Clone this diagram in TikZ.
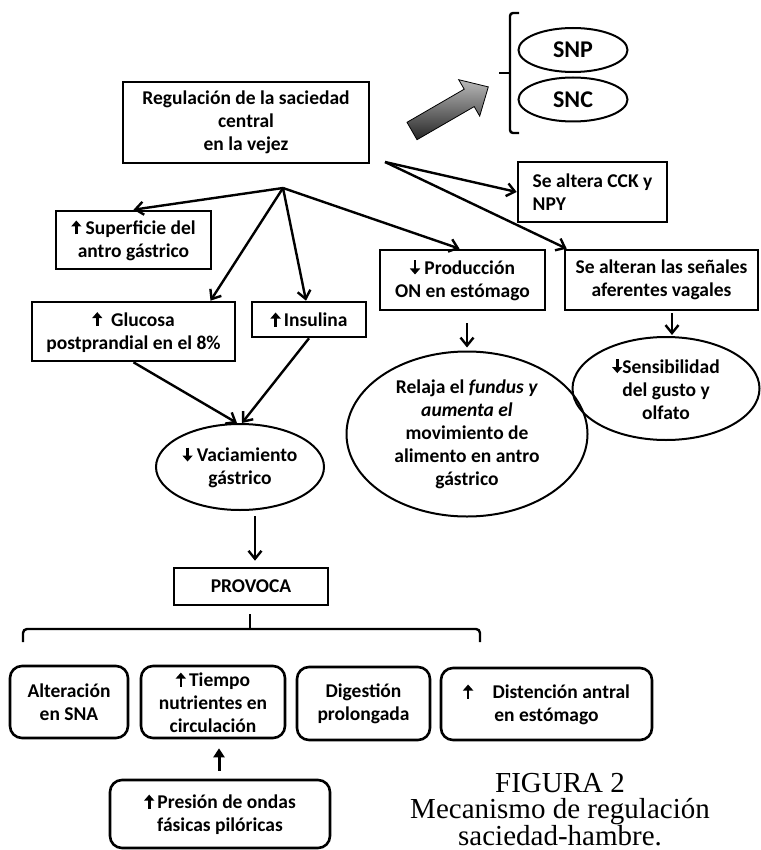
\documentclass[tikz,border=0pt]{standalone}
\usepackage{fontspec}
\setmainfont{Carlito}
\newfontfamily\capfont{Liberation Serif}
\usetikzlibrary{arrows.meta,shapes.geometric}
\newcommand{\arrUp}{\tikz[baseline=0pt]\draw[line width=2.6pt,-{Triangle[length=6pt,width=10pt]}] (0pt,0pt) -- (0pt,14pt);}
\newcommand{\arrDn}{\tikz[baseline=0pt]\draw[line width=2.6pt,-{Triangle[length=6pt,width=10pt]}] (0pt,14pt) -- (0pt,0pt);}
\begin{document}
\begin{tikzpicture}[x=1pt,y=-1pt,
    font=\fontsize{19.5}{23}\selectfont\bfseries,
    box/.style={draw,line width=2.6pt,align=center,inner sep=0pt},
    oval/.style={draw,ellipse,line width=2pt,align=center,inner sep=0pt},
    rbox/.style={draw,line width=2.6pt,rounded corners=12pt,align=center,inner sep=0pt},
    link/.style={line width=2.4pt,-{Straight Barb[length=8pt,width=13pt]}}]
    \useasboundingbox (0,0) rectangle (760,850);
    \fill[white] (0,0) rectangle (760,850);
    % top part
    \node[box,minimum width=246pt,minimum height=81pt] (reg) at (246,122.5) {Regulación de la saciedad\\central\\en la vejez};
    \node[oval,minimum width=109pt,minimum height=44pt,font=\fontsize{24}{28}\selectfont\bfseries] (snp) at (573,50) {SNP};
    \node[oval,minimum width=109pt,minimum height=44pt,font=\fontsize{24}{28}\selectfont\bfseries] (snc) at (573,99.5) {SNC};
    \draw[line width=2.4pt,rounded corners=3pt] (519,13) -- (510,13) -- (510,133) -- (519,133);
    \draw[line width=2.4pt] (510,73) -- (499,73);
    \draw[line width=0.8pt,top color=gray!55,bottom color=black!85] (407,122.3) -- (464.2,89.2) -- (458.7,79.7) -- (488.3,86.9) -- (479.7,116.1) -- (474.2,106.6) -- (417,139.7) -- cycle;
    \node[box,minimum width=149pt,minimum height=60pt,align=left] (cck) at (592.5,192) {Se altera CCK y\\NPY};
    \coordinate (hub) at (283,188);
    \coordinate (fork) at (385,162);
    % second row
    \node[box,minimum width=155pt,minimum height=58pt] (sup) at (133.5,240) {\arrUp\ Superficie del\\antro gástrico};
    \node[box,minimum width=203pt,minimum height=59pt] (glu) at (133.5,331.5) {\arrUp\ \ Glucosa\\postprandial en el 8\%};
    \node[box,minimum width=114pt,minimum height=35pt] (ins) at (309,319.5) {\arrUp\,Insulina};
    \node[box,minimum width=165pt,minimum height=60pt] (prod) at (462.5,280) {\arrDn\ Producción\\ON en estómago};
    \node[box,minimum width=193pt,minimum height=60pt] (sen) at (661.5,280) {Se alteran las señales\\aferentes vagales};
    \node[oval,minimum width=241pt,minimum height=165pt] (rel) at (467,434) {Relaja el \textit{fundus y}\\\textit{aumenta el}\\movimiento de\\alimento en antro\\gástrico};
    \node[oval,minimum width=187pt,minimum height=103pt] (sens) at (666,388.5) {\arrDn Sensibilidad\\del gusto y\\olfato};
    \node[oval,minimum width=168pt,minimum height=86pt] (vac) at (240,467) {\arrDn\ Vaciamiento\\gástrico};
    \node[box,minimum width=154pt,minimum height=37pt] (prov) at (251,586.5) {PROVOCA};
    % bottom boxes
    \node[rbox,minimum width=118pt,minimum height=72pt] (alt) at (69,702) {Alteración\\en SNA};
    \node[rbox,minimum width=144pt,minimum height=72pt] (tie) at (213,702) {\arrUp\,Tiempo\\nutrientes en\\circulación};
    \node[rbox,minimum width=133pt,minimum height=73pt] (dig) at (363.5,703.5) {Digestión\\prolongada};
    \node[rbox,minimum width=211pt,minimum height=72pt] (dis) at (546.5,704) {\arrUp\quad Distención antral\\en estómago};
    \node[rbox,minimum width=220pt,minimum height=68pt] (pre) at (220,814) {\arrUp\,Presión de ondas\\fásicas pilóricas};
    \node[anchor=north,inner sep=0pt,align=center,font=\capfont\fontsize{29}{26.5}\selectfont] (cap) at (560,773) {FIGURA 2\\Mecanismo de regulación\\saciedad-hambre.};
    % connectors
    \draw[link] (hub) -- (sup.north);
    \draw[link] (hub) -- ([xshift=77pt]glu.north);
    \draw[link] (hub) -- ([xshift=-3pt]ins.north);
    \draw[link] (hub) -- ([xshift=-3pt]prod.north);
    \draw[link] (fork) -- (cck.west);
    \draw[link] (fork) -- ([xshift=3pt]sen.north west);
    \draw[link] (glu.south) -- ([xshift=-3pt]vac.north);
    \draw[link] (ins.south) -- ([xshift=2pt]vac.north);
    \draw[link,shorten <=12pt,shorten >=3pt] ([xshift=4.5pt]prod.south) -- (rel.north);
    \draw[link,shorten <=2pt,shorten >=1pt] ([xshift=10.5pt]sen.south) -- ([xshift=6pt]sens.north);
    \draw[link,shorten <=5pt,shorten >=6pt] ([xshift=15pt]vac.south) -- ([xshift=4pt]prov.north);
    \draw[line width=2.4pt,rounded corners=4pt] (23,642) -- (23,629) -- (480,629) -- (480,642);
    \draw[line width=2.4pt] (250,629) -- (250,614);
    \draw[line width=3pt,-{Triangle[length=9pt,width=11pt]},shorten <=8pt,shorten >=9pt] ([xshift=-1pt]pre.north) -- ([xshift=6pt]tie.south);
\end{tikzpicture}
\end{document}
